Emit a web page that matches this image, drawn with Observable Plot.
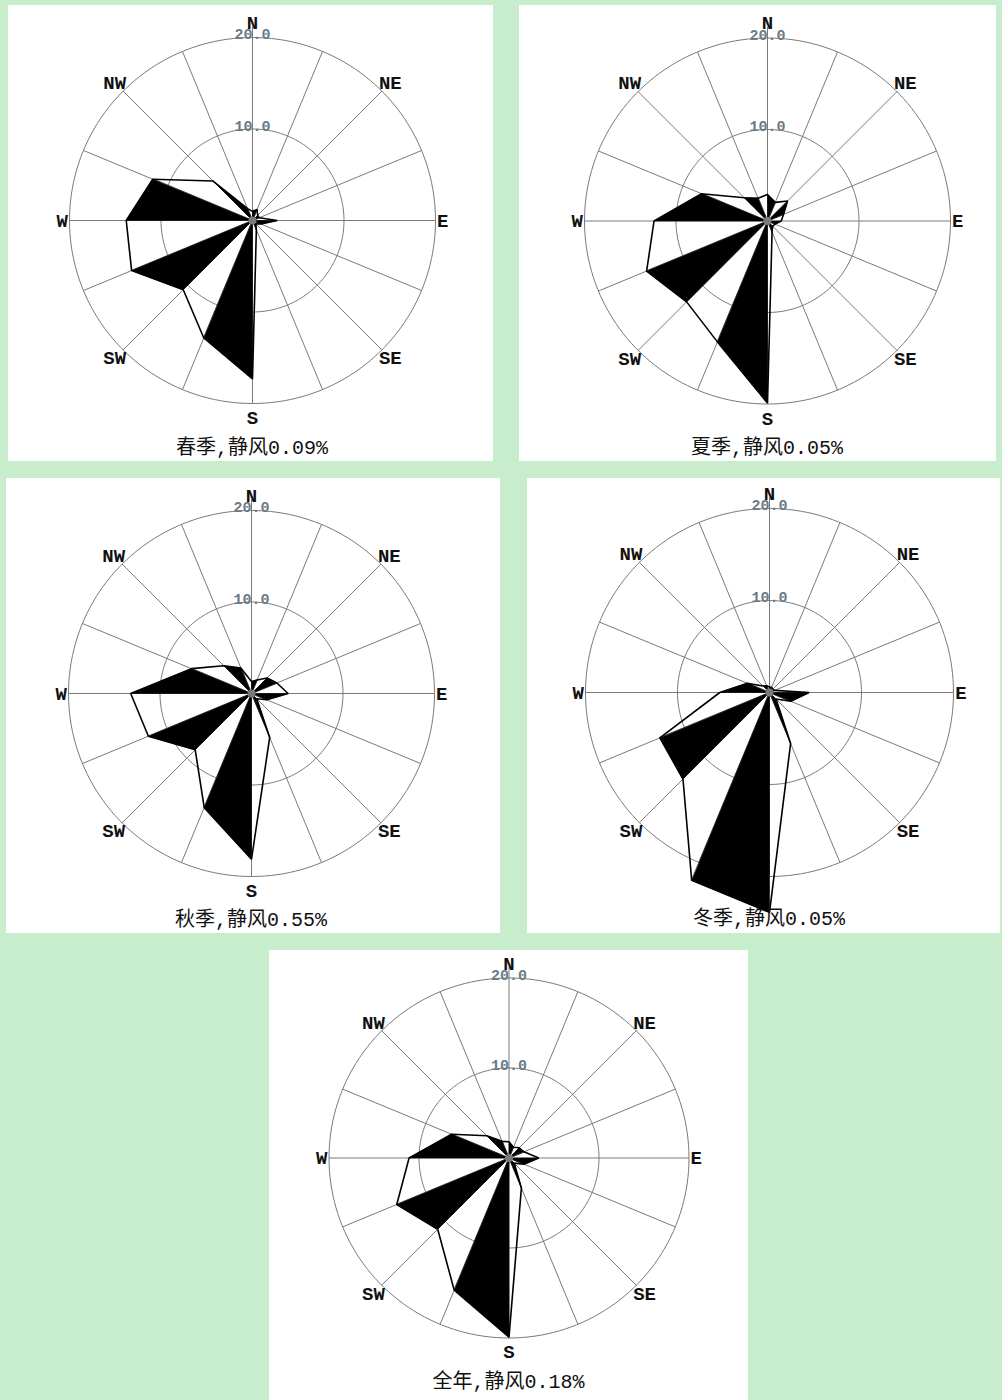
<!DOCTYPE html>
<html>
<head>
<meta charset="utf-8">
<script src="https://cdn.jsdelivr.net/npm/d3@7"></script>
<script src="https://cdn.jsdelivr.net/npm/@observablehq/plot@0.6"></script>
<style>
  html, body { margin: 0; padding: 0; }
  body { width: 1002px; height: 1400px; background: #c7edcc; position: relative; overflow: hidden; }
  .panel { position: absolute; background: #ffffff; overflow: hidden; }
  .panel svg { position: absolute; left: 0; top: 0; }
  .cap { position: absolute; text-align: center; white-space: nowrap;
         font-family: "Liberation Mono", "Noto Sans CJK SC", monospace; font-size: 20px; line-height: 22px; color: #111; z-index: 2; }
</style>
</head>
<body>
<script>
// 16 compass sectors, clockwise from north
const directions = ["N","NNE","NE","ENE","E","ESE","SE","SSE","S","SSW","SW","WSW","W","WNW","NW","NNW"];

// wind direction frequency (%) per sector
const springFreq = [1.0, 1.3, 0.8, 0.8, 2.7, 1.0, 0.5, 1.1, 17.3, 13.9, 10.7, 14.3, 13.8, 11.8, 6.1, 1.4];
const summerFreq = [2.9, 2.2, 3.1, 1.9, 1.5, 0.9, 0.8, 1.3, 19.9, 14.3, 12.5, 14.3, 12.4, 7.8, 3.6, 2.7];
const autumnFreq = [1.3, 1.6, 2.4, 3.0, 4.0, 1.8, 0.8, 5.2, 18.1, 13.5, 8.7, 12.2, 13.2, 7.1, 4.3, 3.0];
const winterFreq = [0.6, 0.6, 0.5, 0.6, 4.3, 2.5, 1.0, 6.0, 23.9, 22.1, 13.3, 12.9, 5.4, 2.6, 1.0, 0.8];
const annualFreq = [1.8, 1.3, 1.6, 1.8, 3.3, 1.8, 0.8, 3.6, 19.9, 15.9, 11.2, 13.5, 11.1, 6.9, 3.5, 2.0];

// season names and calm-wind share
const periods = ["春季", "夏季", "秋季", "冬季", "全年"];
const calmShare = ["0.09%", "0.05%", "0.55%", "0.05%", "0.18%"];

// rings and their labels
const ringValues = [10, 20];
const ringLabels = ["10.0", "20.0"];

// compass labels drawn outside the outer ring
const compassLabels = ["N", "NE", "E", "SE", "S", "SW", "W", "NW"];

const seriesList = [springFreq, summerFreq, autumnFreq, winterFreq, annualFreq];

// panel boxes on the page: left, top, width, height, centre of the rose, pixels per percent
const panels = [
  {left: 8,   top: 5,   w: 485, h: 456, cx: 244,   cy: 215,   k: 9.15, capY: 433},
  {left: 519, top: 5,   w: 477, h: 456, cx: 248,   cy: 215.5, k: 9.15, capY: 433},
  {left: 6,   top: 478, w: 494, h: 455, cx: 245,   cy: 215,   k: 9.15, capY: 432},
  {left: 527, top: 478, w: 473, h: 455, cx: 242,   cy: 214,   k: 9.2,  capY: 431},
  {left: 269, top: 950, w: 479, h: 450, cx: 239.5, cy: 207.5, k: 9.0,  capY: 422}
];

const rad = (i) => i * Math.PI / 8;
const polar = (v, a) => ({x: v * Math.sin(a), y: v * Math.cos(a)});

// label distance from the centre, in percent units
function labelRadius(i) {
  if (i % 8 === 0) return 21.6;   // N, S
  if (i % 4 === 0) return 20.8;   // E, W
  return 21.3;                    // diagonals
}

function rose(values, p) {
  const pts = values.map((v, i) => ({...polar(v, rad(i)), dir: directions[i], v}));
  // closed outline through all 16 sector tips
  const outline = [...pts, pts[0]];
  // every other sector triangle is filled black
  const wedges = [];
  for (let i = 0; i < 16; i += 2) {
    const a = pts[i], b = pts[(i + 1) % 16];
    wedges.push({id: i, x: 0, y: 0}, {id: i, x: a.x, y: a.y}, {id: i, x: b.x, y: b.y});
  }
  // ring circles
  const rings = ringValues.flatMap((r) => d3.range(0, 361, 2).map((d) => ({r, ...polar(r, d * Math.PI / 180)})));
  // spokes
  const spokes = directions.map((d, i) => {
    const e = polar(i === 0 ? 21.2 : 20, rad(i));
    return {x1: 0, y1: 0, x2: e.x, y2: e.y};
  });
  // compass labels; a label that a petal runs over stays hidden under it
  const labelPts = compassLabels
    .map((t) => {
      const i = directions.indexOf(t);
      return {t, v: values[i], r: labelRadius(i), ...polar(labelRadius(i), rad(i))};
    })
    .filter((d) => d.v < d.r - 1);
  const ringText = ringValues.map((r, j) => ({t: ringLabels[j], x: 0, y: r}));

  return Plot.plot({
    width: p.w,
    height: p.h,
    margin: 0,
    style: {background: "transparent", overflow: "visible"},
    x: {domain: [-p.cx / p.k, (p.w - p.cx) / p.k], axis: null},
    y: {domain: [(p.cy - p.h) / p.k, p.cy / p.k], axis: null},
    marks: [
      Plot.line(rings, {x: "x", y: "y", z: "r", stroke: "#7a7a7a", strokeWidth: 1}),
      Plot.link(spokes, {x1: "x1", y1: "y1", x2: "x2", y2: "y2", stroke: "#7a7a7a", strokeWidth: 1}),
      Plot.text(ringText, {x: "x", y: "y", text: "t", fill: "#6a7b86", fontSize: 15, fontWeight: "bold", fontFamily: "Liberation Mono", textAnchor: "middle", dy: -3}),
      Plot.text(labelPts, {x: "x", y: "y", text: "t", fill: "#111", fontSize: 19, fontFamily: "Liberation Mono", fontWeight: "bold", textAnchor: "middle"}),
      Plot.line(wedges, {x: "x", y: "y", z: "id", fill: "#000", stroke: "#000", strokeWidth: 0.6, curve: "linear-closed"}),
      Plot.line(outline, {x: "x", y: "y", stroke: "#000", strokeWidth: 1.6, strokeLinejoin: "miter"}),
      Plot.dot([{x: 0, y: 0}], {x: "x", y: "y", r: 4, fill: "#7a7a7a", stroke: "none"})
    ]
  });
}

panels.forEach((p, j) => {
  const div = document.createElement("div");
  div.className = "panel";
  Object.assign(div.style, {left: p.left + "px", top: p.top + "px", width: p.w + "px", height: p.h + "px"});
  div.appendChild(rose(seriesList[j], p));
  const cap = document.createElement("div");
  cap.className = "cap";
  cap.style.top = p.capY + "px";
  cap.style.left = "0px";
  cap.style.width = (2 * p.cx) + "px";
  cap.textContent = `${periods[j]},静风${calmShare[j]}`;
  div.appendChild(cap);
  document.body.appendChild(div);
});
</script>
</body>
</html>
